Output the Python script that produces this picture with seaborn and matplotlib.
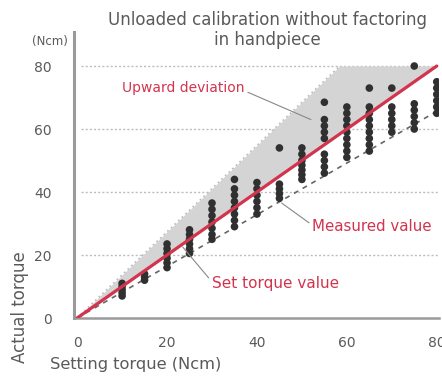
import matplotlib
matplotlib.use('Agg')
import matplotlib.pyplot as plt
import seaborn as sns
import numpy as np
import pandas as pd

# setting torque (Ncm) and the measured torques read at each setting
setting = [10, 15, 20, 25, 30, 35, 40, 45, 50, 55, 60, 65, 70, 75, 80]
measured = [
    [7, 8, 9, 10, 11],
    [12, 13, 14],
    [16, 17.5, 19, 20.5, 22, 23.5],
    [20.5, 22, 23.5, 25, 26.5, 28],
    [25, 26.5, 28.5, 30.5, 32.5, 34.5, 36.5],
    [29, 31, 33, 35, 37, 39, 41, 44],
    [33, 35, 37, 39, 41, 43],
    [38, 39.5, 41, 42.5, 54],
    [44, 45.5, 47, 48.5, 50, 52, 54],
    [46, 48, 50, 52, 57, 59, 61, 63, 68.5],
    [51, 53, 55, 57, 59, 61, 63, 65, 67],
    [53, 55, 57, 59, 61, 63, 65, 67, 73],
    [59, 61, 63, 65, 67, 73],
    [60, 62, 64, 66, 68, 80],
    [65, 67, 69, 71, 73, 75],
]
set_line = [0, 80]
upper_x = [0, 58.4, 80]
upper_y = [0, 80, 80]
lower_ratio = 0.82
yticks = [0, 20, 40, 60, 80]
xticks = [0, 20, 40, 60, 80]

rows = [(s, m) for s, vals in zip(setting, measured) for m in vals]
df = pd.DataFrame(rows, columns=['Setting', 'Actual'])

sns.set_style('white')
plt.rcParams['font.family'] = ['DejaVu Sans']
txt = '#5a5a5a'
red = '#d2344e'

fig = plt.figure(figsize=(4.42, 3.76), dpi=100)
ax = fig.add_axes([74 / 442, 1 - 318 / 376, 365 / 442, 286 / 376])

# gray "upward deviation" band between set value and upper bound
xs = np.linspace(0, 80, 200)
ax.fill_between(xs, xs, np.interp(xs, upper_x, upper_y), color='#d4d4d4', lw=0, zorder=1)
ax.plot(upper_x[:2], upper_y[:2], color='#bbbbbb', lw=1.2, ls=(0, (1, 2)), zorder=1)

for v in yticks[1:]:
    ax.axhline(v, xmin=0.02, color='#bdbdbd', lw=1, ls=(0, (1.5, 1.5)), zorder=0)

ax.plot(set_line, [v * lower_ratio for v in set_line], color='#666666', lw=1.2,
        ls=(0, (3, 3)), zorder=2)

sns.scatterplot(data=df, x='Setting', y='Actual', ax=ax, color='#303030', s=30,
                edgecolor='none', zorder=3, legend=False)

ax.plot(set_line, set_line, color=red, lw=2.3, zorder=4)

ax.set_xlim(-0.7, 80.5)
ax.set_ylim(0, 90.8)
ax.set_xticks(xticks)
ax.set_yticks(yticks)
ax.tick_params(axis='x', length=0, pad=13, labelsize=10, labelcolor=txt)
ax.tick_params(axis='y', length=0, pad=16, labelsize=10, labelcolor=txt)
ax.set_xlabel('')
ax.set_ylabel('')
for side in ['top', 'right']:
    ax.spines[side].set_visible(False)
ax.spines['left'].set_color('#9a9a9a')
ax.spines['left'].set_linewidth(2.2)
ax.spines['bottom'].set_color('#9a9a9a')
ax.spines['bottom'].set_linewidth(1.8)

# annotations
ax.annotate('Upward deviation', xy=(52, 63), xytext=(10, 73), color=red, fontsize=10,
            va='center', arrowprops=dict(arrowstyle='-', color='#888888', lw=0.8,
                                         shrinkA=0, shrinkB=0, relpos=(1, 0.3)))
ax.annotate('Measured value', xy=(45.5, 36.5), xytext=(52.3, 29), color=red, fontsize=10.8,
            va='center', arrowprops=dict(arrowstyle='-', color='#888888', lw=0.8,
                                         shrinkA=0, shrinkB=0, relpos=(0, 0.6)))
ax.annotate('Set torque value', xy=(23.5, 22.5), xytext=(30, 11), color=red, fontsize=11,
            va='center', arrowprops=dict(arrowstyle='-', color='#888888', lw=0.8,
                                         shrinkA=0, shrinkB=0, relpos=(0, 0.6)))

fig.text(267 / 442, 1 - 30 / 376, 'Unloaded calibration without factoring\nin handpiece',
         ha='center', va='center', fontsize=12, color=txt, linespacing=1.08)
fig.text(50 / 442, 1 - 42 / 376, '(Ncm)', ha='center', va='center', fontsize=8.5, color=txt)
fig.text(20 / 442, 1 - 307 / 376, 'Actual torque', rotation=90, ha='center', va='center',
         fontsize=12, color=txt)
fig.text(50 / 442, 1 - 365 / 376, 'Setting torque (Ncm)', ha='left', va='center',
         fontsize=11.7, color=txt)

fig.savefig('out.png', dpi=100)
